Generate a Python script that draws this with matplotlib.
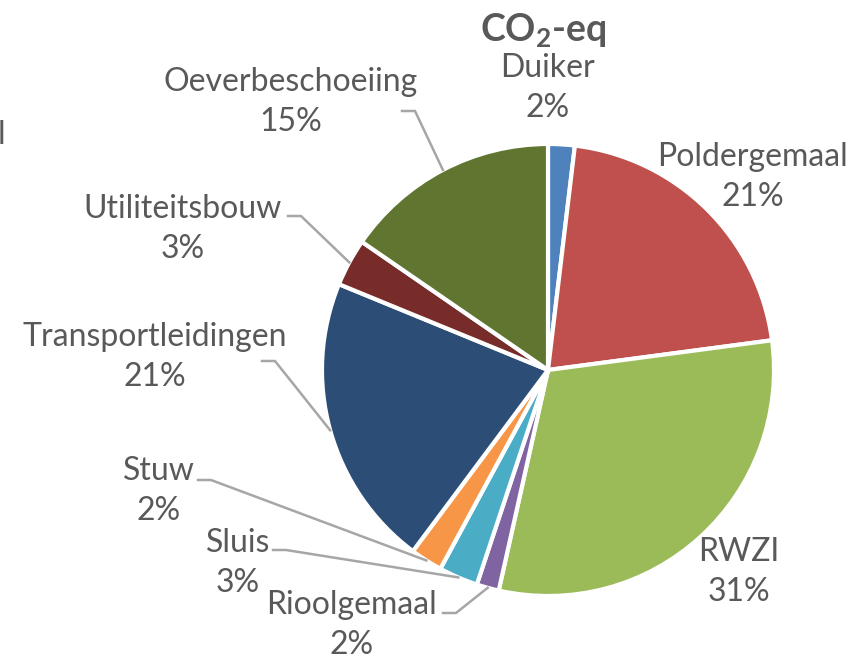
import matplotlib.pyplot as plt
import numpy as np

plt.rcParams['font.family'] = ['Lato', 'DejaVu Sans']
plt.rcParams['mathtext.fontset'] = 'custom'
plt.rcParams['mathtext.rm'] = 'Lato:bold'

# data (share of CO2-eq per object type)
names = ['Duiker', 'Poldergemaal', 'RWZI', 'Rioolgemaal', 'Sluis', 'Stuw',
         'Transportleidingen', 'Utiliteitsbouw', 'Oeverbeschoeiing']
values = [1.9, 21.0, 30.6, 1.6, 2.8, 2.3, 21.0, 3.4, 15.4]
colors = ['#4F81BD', '#C0504D', '#9BBB59', '#8064A2', '#4BACC6', '#F79646',
          '#2C4D75', '#772C2A', '#5F7530']

# layout (pixel coords, y down)
center = (548, 370)
radius = 226
label_pos = [(548, 88), (753, 177), (739, 572), (352, 625), (238, 563),
             (159, 491), (155, 357), (183, 229), (291, 102)]
# leader line start (None = no leader line)
leader_start = [None, None, None, (443, 613), (273, 550), (198, 480),
                (262, 361), (288, 216), (402, 111)]

text_col = '#595959'
line_col = '#A6A6A6'

fig = plt.figure(figsize=(8.53, 6.62), dpi=100)
ax = fig.add_axes([0, 0, 1, 1])

wedges, _ = ax.pie(values, colors=colors, center=center, radius=radius,
                   startangle=-90, counterclock=True,
                   wedgeprops=dict(edgecolor='white', linewidth=3))
ax.set_xlim(0, 853)
ax.set_ylim(662, 0)
ax.set_aspect('equal')
ax.axis('off')

for w, name, v, pos, start in zip(wedges, names, values, label_pos, leader_start):
    ax.text(pos[0], pos[1], f"{name}\n{round(v):.0f}%", ha='center', va='center',
            fontsize=23, color=text_col, linespacing=1.4)
    if start is not None:
        mid = np.deg2rad((w.theta1 + w.theta2) / 2)
        ex = center[0] + radius * np.cos(mid)
        ey = center[1] + radius * np.sin(mid)
        ax.plot([start[0], start[0] + 13, ex], [start[1], start[1], ey],
                color=line_col, lw=1.8, solid_joinstyle='miter')

ax.text(543, 31, r'CO$_{2}$-eq', ha='center', va='center', fontsize=27,
        fontweight='bold', color=text_col)
ax.text(-2, 135, 'l', ha='left', va='center', fontsize=23, color=text_col)

fig.savefig('out.png', dpi=100)
